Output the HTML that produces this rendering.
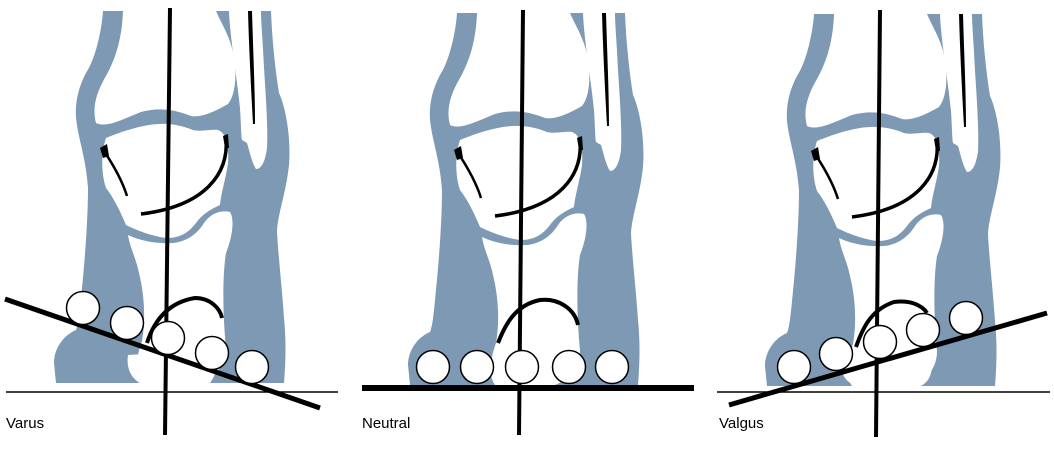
<!DOCTYPE html>
<html><head><meta charset="utf-8"><style>
html,body{margin:0;padding:0;background:#fff;width:1054px;height:462px;overflow:hidden}
svg{display:block}
text{font-family:"Liberation Sans",sans-serif;font-size:15px;fill:#000}
</style></head><body>
<svg width="1054" height="462" viewBox="0 0 1054 462">
<defs>
<g id="bone">
<path fill="#7d99b3" d="M97,13 C96,30 90,60 80,75 C72,90 69,105 70,120 C72,140 80,160 82,190 C82,220 79,260 76,290 C74,310 73,325 70,332 C58,337 48,350 48,365 L50,385 L278,385 C280,360 280,340 278,320 C276,290 272,255 271,233 C272,215 280,195 283,167 C285,140 280,110 273,95 C269,70 266,40 265,13 Z"/>
<path fill="#fff" d="M117,13 C116,40 110,60 100,78 C90,95 86,110 90,125 C100,130 115,122 135,114 C150,110 165,110 185,118 C195,120 210,113 222,106 C231,95 231,70 226,50 C222,35 215,25 210,13 Z"/>
<path fill="#fff" d="M100,140 C110,136 125,130 143,127 C155,125 170,125 187,132 C195,134 205,131 212,132 C221,135 223,150 222,165 C220,180 215,195 214,207 C208,210 198,214 190,225 C180,238 170,240 160,240 C145,238 130,232 120,227 C115,215 108,200 100,190 C95,175 95,155 100,140 Z"/>
<path fill="#fff" d="M122,237 C135,243 150,246 167,245 C178,244 190,238 198,225 C205,215 215,212 224,214 C229,222 226,240 220,255 C216,280 217,320 220,350 C220,365 212,378 195,385 L135,385 C128,375 130,360 136,343 C140,320 138,295 133,275 C130,260 124,250 122,237 Z"/>
<path fill="#fff" d="M223,13 C224,40 231,80 234,110 C235,125 235,138 236,142 L241,145 C244,155 246,165 250,171 C255,171 259,165 261,150 C262,130 260,100 258,70 C257,45 255,25 255,13 Z"/>
<path fill="#000" d="M242,13 L246,13 C247,50 249,90 249,126 L247,126 C245,90 243,50 242,13 Z"/>
<path fill="none" stroke="#000" stroke-width="2.5" d="M98,153 C108,168 116,182 121,198"/>
<path fill="#000" d="M94,150 L101,146 L103,158 L97,160 Z"/>
<path fill="none" stroke="#000" stroke-width="3.5" d="M220,140 C223,175 200,208 135,216"/>
<path fill="#000" d="M217,138 L222,136 L223,150 L219,150 Z"/>
</g>
</defs>

<!-- Varus -->
<use href="#bone" transform="translate(6,-2)"/>
<path fill="#fff" d="M128,355 C125,375 138,388 160,388 L205,388 C215,380 220,365 215,350 Z"/>
<path fill="none" stroke="#000" stroke-width="4" d="M147,343 C155,318 170,302 195,298 C210,298 220,308 222,318"/>
<line x1="6" y1="392" x2="338" y2="392" stroke="#000" stroke-width="1.5"/>
<line x1="170" y1="8" x2="165" y2="435" stroke="#000" stroke-width="4"/>
<line x1="5" y1="299" x2="320" y2="408" stroke="#000" stroke-width="5"/>
<g fill="#fff" stroke="#000" stroke-width="1.5">
<circle cx="83" cy="308" r="16.5"/><circle cx="127" cy="323" r="16.5"/><circle cx="168" cy="338" r="16.5"/><circle cx="212" cy="353" r="16.5"/><circle cx="252" cy="367" r="16.5"/>
</g>
<text x="6" y="428">Varus</text>

<!-- Neutral -->
<use href="#bone" transform="translate(360,0)"/>
<path fill="none" stroke="#000" stroke-width="4" d="M498,343 C505,325 515,305 540,300 C560,298 575,310 578,325"/>
<line x1="523" y1="10" x2="519" y2="435" stroke="#000" stroke-width="4"/>
<line x1="362" y1="388" x2="694" y2="388" stroke="#000" stroke-width="6"/>
<g fill="#fff" stroke="#000" stroke-width="1.5">
<circle cx="433" cy="367" r="16.5"/><circle cx="477" cy="367" r="16.5"/><circle cx="522" cy="367" r="16.5"/><circle cx="569" cy="367" r="16.5"/><circle cx="612" cy="367" r="16.5"/>
</g>
<text x="362" y="428">Neutral</text>

<!-- Valgus -->
<use href="#bone" transform="translate(717,1)"/>
<path fill="#fff" d="M840,360 C840,378 850,388 870,388 L915,388 C930,385 935,370 930,355 Z"/>
<path fill="none" stroke="#000" stroke-width="4" d="M856,347 C862,330 870,310 894,302 C910,300 922,305 927,313"/>
<line x1="717" y1="392" x2="1050" y2="392" stroke="#000" stroke-width="1.5"/>
<line x1="880" y1="10" x2="876" y2="437" stroke="#000" stroke-width="4"/>
<line x1="729" y1="405" x2="1047" y2="313" stroke="#000" stroke-width="5"/>
<g fill="#fff" stroke="#000" stroke-width="1.5">
<circle cx="794" cy="367" r="16.5"/><circle cx="836" cy="354" r="16.5"/><circle cx="880" cy="342" r="16.5"/><circle cx="923" cy="330" r="16.5"/><circle cx="966" cy="318" r="16.5"/>
</g>
<text x="719" y="428">Valgus</text>
</svg>
</body></html>
